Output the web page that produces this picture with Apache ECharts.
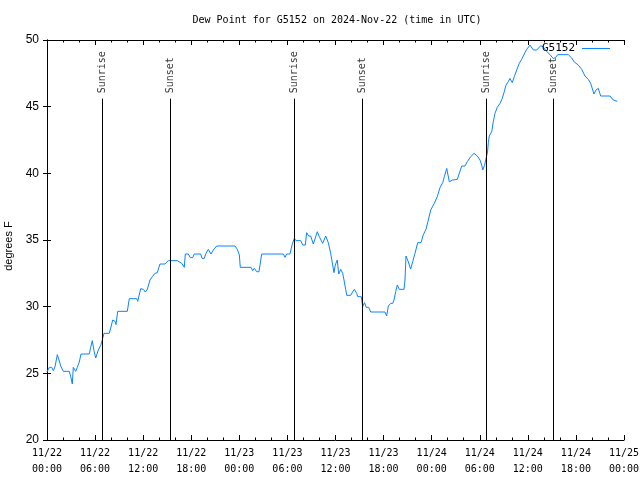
<!DOCTYPE html>
<html>
<head>
<meta charset="utf-8">
<script src="https://cdn.jsdelivr.net/npm/echarts@6/dist/echarts.min.js"></script>
<style>html,body{margin:0;padding:0;background:#fff}#c{width:640px;height:480px}</style>
</head>
<body>
<div id="c"></div>
<script>
// Hours since 2024-11-22 00:00 UTC
const hoursFromStart = [0.0,0.29,0.59,0.79,1.0,1.29,1.5,1.71,2.03,2.78,2.96,3.16,3.28,3.58,3.78,4.03,4.24,5.28,5.45,5.65,5.86,6.08,6.4,6.7,6.9,7.11,7.77,7.95,8.2,8.49,8.61,8.82,10.02,10.27,11.19,11.32,11.69,12.02,12.27,12.52,12.85,13.14,13.48,13.76,14.1,14.72,15.14,16.26,16.81,17.13,17.26,17.63,17.88,18.18,18.37,19.18,19.34,19.63,19.84,20.13,20.46,20.75,20.96,21.18,23.46,23.75,24.0,24.12,25.46,25.67,25.87,26.17,26.45,26.79,29.49,29.7,29.91,30.32,30.57,30.86,31.07,31.66,31.91,32.23,32.4,32.65,32.9,33.23,33.73,33.98,34.4,34.78,35.1,35.4,35.53,35.81,35.97,36.22,36.4,36.65,36.9,37.06,37.27,37.4,37.9,38.15,38.35,38.64,38.77,39.22,39.39,39.62,39.84,40.14,40.4,42.18,42.39,42.59,42.89,43.14,43.3,43.51,43.71,43.96,44.55,44.67,44.8,45.08,45.38,45.63,45.92,46.26,46.67,46.95,47.29,47.58,47.88,48.33,48.7,49.04,49.38,49.58,49.88,50.2,50.62,51.2,51.45,51.75,52.16,52.45,52.87,53.29,53.7,54.03,54.24,54.37,54.6,54.8,54.97,55.07,55.19,55.49,55.69,55.9,56.19,56.53,56.81,57.06,57.27,57.56,57.77,58.06,58.31,58.61,58.93,59.23,59.56,59.86,60.27,60.69,61.11,61.6,61.89,62.27,62.77,63.18,63.48,63.73,65.05,65.47,65.8,66.3,66.72,67.13,67.54,67.84,68.25,68.5,68.79,69.09,70.25,70.66,71.16];
const dewPointF = [25.1,25.45,25.45,25.2,25.5,26.4,26.0,25.55,25.15,25.15,24.75,24.2,25.45,25.15,25.45,25.85,26.45,26.45,26.95,27.45,26.7,26.15,26.75,27.1,27.5,28.0,28.0,28.4,29.0,28.9,28.65,29.65,29.65,30.6,30.6,30.4,31.35,31.3,31.1,31.3,32.0,32.25,32.5,32.55,33.2,33.2,33.45,33.45,33.25,32.95,33.95,33.95,33.68,33.68,33.95,33.95,33.62,33.62,34.0,34.3,33.95,34.25,34.25,34.55,34.55,34.3,33.88,32.95,32.95,32.7,32.88,32.62,32.62,33.95,33.95,33.7,33.95,33.95,34.62,35.12,34.95,34.95,34.62,34.62,35.55,35.3,35.3,34.7,35.62,35.25,34.75,35.3,34.8,34.0,33.55,32.55,33.12,33.5,32.45,32.8,32.5,32.0,31.3,30.85,30.85,31.12,31.3,31.0,30.75,30.75,30.0,30.3,29.95,29.95,29.6,29.6,29.3,30.05,30.25,30.25,30.5,31.12,31.62,31.3,31.3,32.0,33.8,33.37,32.82,33.37,34.0,34.8,34.8,35.38,35.8,36.5,37.25,37.75,38.25,38.93,39.3,39.75,40.37,39.37,39.5,39.55,40.0,40.55,40.55,40.88,41.25,41.5,41.3,41.0,40.62,40.25,40.6,40.7,41.6,42.3,42.8,43.12,43.87,44.5,44.95,45.25,45.62,46.12,46.62,46.87,47.12,46.8,47.25,47.75,48.25,48.55,48.95,49.3,49.62,49.25,49.25,49.57,49.5,49.2,48.9,48.6,48.7,48.9,48.9,48.65,48.35,48.12,47.8,47.3,47.05,46.75,45.95,46.25,46.37,45.8,45.8,45.5,45.4];
const sunEventHours = [6.9, 15.39, 30.86, 39.34, 54.82, 63.18];
const sunEventNames = ['Sunrise', 'Sunset', 'Sunrise', 'Sunset', 'Sunrise', 'Sunset'];
const xTickLabels = ['11/22\n00:00','11/22\n06:00','11/22\n12:00','11/22\n18:00','11/23\n00:00','11/23\n06:00','11/23\n12:00','11/23\n18:00','11/24\n00:00','11/24\n06:00','11/24\n12:00','11/24\n18:00','11/25\n00:00'];
const seriesName = 'G5152';
const titleText = 'Dew Point for G5152 on 2024-Nov-22 (time in UTC)';
const yAxisTitle = 'degrees F';

const MONO = '"DejaVu Sans Mono", monospace';
const SANS = '"Liberation Sans", Arial, sans-serif';
const lineTopValue = 45.6;
const labelBaseValue = 46.0;

const chart = echarts.init(document.getElementById('c'), null, {renderer: 'canvas'});
const axisLine = {show: true, lineStyle: {color: '#000', width: 1}};
const xCommon = {
  type: 'value', min: 0, max: 72, interval: 6,
  axisLine: axisLine,
  axisTick: {show: true, inside: true, length: 5, lineStyle: {color: '#000'}},
  minorTick: {show: true, splitNumber: 3, length: 2.5, lineStyle: {color: '#000'}},
  splitLine: {show: false}
};
const yCommon = {
  type: 'value', min: 20, max: 50, interval: 5,
  axisLine: axisLine,
  axisTick: {show: true, inside: true, length: 4, lineStyle: {color: '#000'}},
  splitLine: {show: false}
};

chart.setOption({
  animation: false,
  backgroundColor: '#fff',
  title: {
    text: titleText, left: 332, top: 10, textAlign: 'center',
    textStyle: {fontFamily: MONO, fontSize: 10, fontWeight: 'normal', color: '#000'}
  },
  legend: {
    data: [seriesName], right: 30, top: 43, padding: 0, align: 'right',
    itemWidth: 28, itemHeight: 1, icon: 'rect', itemGap: 0,
    textStyle: {fontFamily: MONO, fontSize: 11, color: '#000', padding: [0, 2, 0, 0]}
  },
  grid: {left: 47, right: 16, top: 40, bottom: 40, containLabel: false, outerBoundsMode: 'none'},
  xAxis: [
    Object.assign({}, xCommon, {
      position: 'bottom',
      axisLabel: {
        show: true, margin: 5, lineHeight: 16,
        fontFamily: MONO, fontSize: 10, color: '#000',
        formatter: function (v) { return xTickLabels[Math.round(v / 6)]; }
      }
    }),
    Object.assign({}, xCommon, {position: 'top', axisLabel: {show: false}})
  ],
  yAxis: [
    Object.assign({}, yCommon, {
      position: 'left',
      name: yAxisTitle, nameLocation: 'middle', nameRotate: 90, nameGap: 30,
      nameTextStyle: {fontFamily: SANS, fontSize: 11, color: '#000', padding: [0, 12, 0, 0]},
      axisLabel: {show: true, margin: 8, fontFamily: SANS, fontSize: 12, color: '#000'}
    }),
    Object.assign({}, yCommon, {position: 'right', axisLabel: {show: false}})
  ],
  series: [
    {
      name: 'sun events', type: 'scatter', xAxisIndex: 0, yAxisIndex: 0,
      symbolSize: 0, silent: true,
      data: sunEventHours.map((t, i) => ({name: sunEventNames[i], value: [t, labelBaseValue]})),
      label: {
        show: true, formatter: '{b}', position: [0, 0], rotate: 90,
        align: 'left', verticalAlign: 'middle',
        fontFamily: MONO, fontSize: 10, color: '#000'
      },
      markLine: {
        silent: true, symbol: 'none', label: {show: false},
        lineStyle: {color: '#000', width: 1, type: 'solid'},
        data: sunEventHours.map(t => [{coord: [t, 20]}, {coord: [t, lineTopValue]}])
      }
    },
    {
      name: seriesName, type: 'line', xAxisIndex: 0, yAxisIndex: 0,
      showSymbol: false, symbol: 'none',
      lineStyle: {color: '#0a84ff', width: 1},
      itemStyle: {color: '#0a84ff'},
      data: hoursFromStart.map((t, i) => [t, dewPointF[i]])
    }
  ]
});
</script>
</body>
</html>
